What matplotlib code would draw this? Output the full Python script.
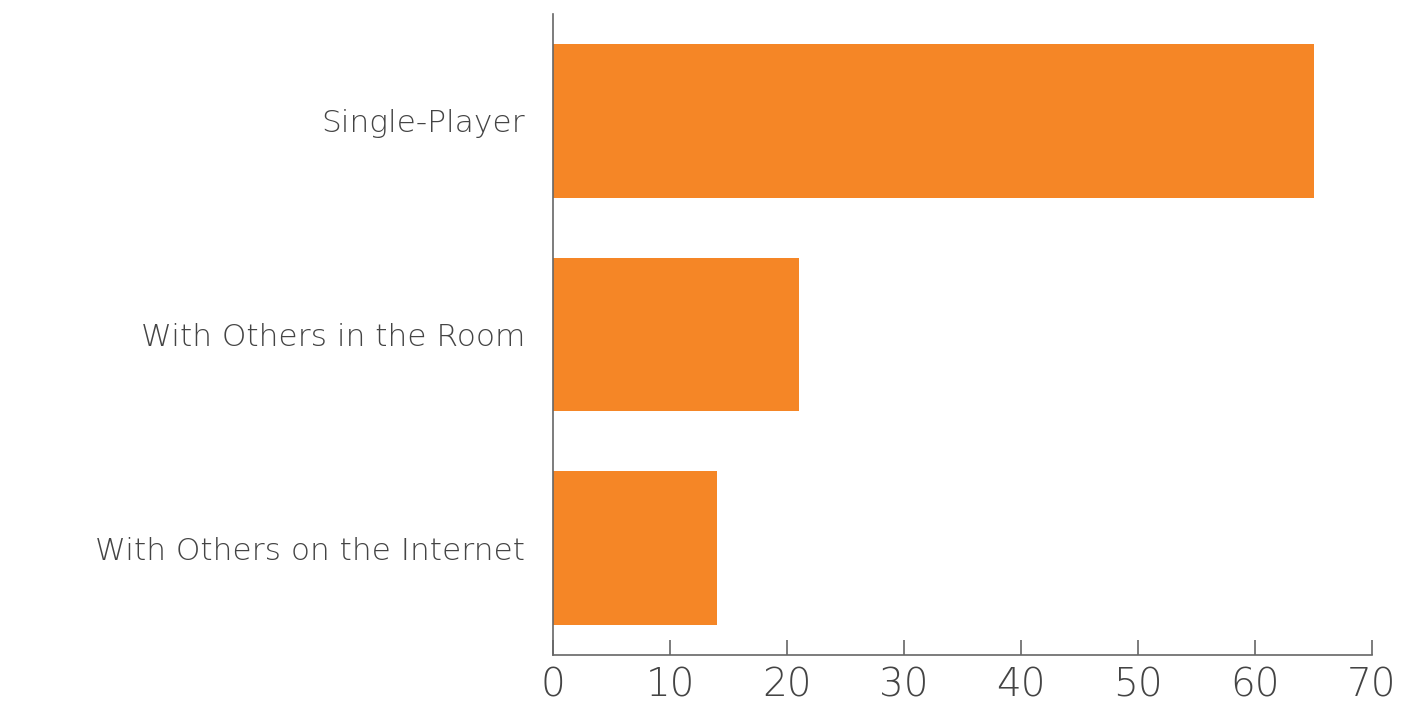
import matplotlib.pyplot as plt
import numpy as np

# data
categories = ['Single-Player', 'With Others in the Room', 'With Others on the Internet']
values = [65, 21, 14]
xticks = [0, 10, 20, 30, 40, 50, 60, 70]

fig = plt.figure(figsize=(14.09, 7.03), dpi=100)
ax = fig.add_axes([553/1409, 1-655/703, (1372-553)/1409, (655-14)/703])

y = np.arange(len(categories))
ax.barh(y, values, height=0.72, color='#F58626')

ax.set_ylim(2.5, -0.5)
ax.set_xlim(0, 70)
ax.set_yticks(y)
ax.set_yticklabels(categories, fontsize=22.5, color='#444444', fontweight='light')
ax.set_xticks(xticks)
ax.set_xticklabels([str(t) for t in xticks], fontsize=28, color='#444444', fontweight='light')

ax.tick_params(axis='y', length=0, pad=20)
ax.tick_params(axis='x', direction='in', length=11, width=1.2, color='#666666', pad=8)

for s in ['top', 'right']:
    ax.spines[s].set_visible(False)
for s in ['left', 'bottom']:
    ax.spines[s].set_color('#666666')
    ax.spines[s].set_linewidth(1.2)

fig.savefig('out.png', dpi=100)
